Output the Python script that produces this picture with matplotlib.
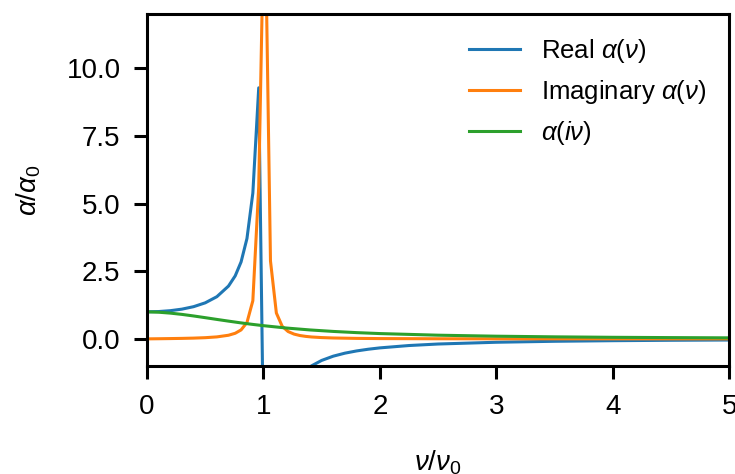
import matplotlib
matplotlib.use("Agg")
import matplotlib.pyplot as plt

plt.rcParams['font.family'] = ['Liberation Sans', 'DejaVu Sans']
plt.rcParams['mathtext.fontset'] = 'custom'
plt.rcParams['mathtext.rm'] = 'Liberation Sans'
plt.rcParams['mathtext.it'] = 'Liberation Sans:italic'

# real part of alpha(nu) (dense near the resonance)
nu_re = [0.0, 0.1, 0.2, 0.3, 0.4, 0.5, 0.6, 0.7, 0.7576, 0.8081, 0.8586,
         0.9091, 0.9596, 1.0101, 1.0606, 1.1111, 1.1616, 1.2121, 1.2626,
         1.3131, 1.3636, 1.4141, 1.5, 1.6, 1.7, 1.8, 1.9, 2.0, 2.25, 2.5,
         3.0, 3.5, 4.0, 4.5, 5.0]
alpha_re = [1.0, 1.010, 1.042, 1.099, 1.190, 1.332, 1.559, 1.952, 2.329,
            2.844, 3.71, 5.39, 9.28, -6.85, -6.8, -4.04, -2.79, -2.1, -1.66,
            -1.37, -1.16, -0.995, -0.797, -0.639, -0.528, -0.446, -0.383,
            -0.333, -0.246, -0.190, -0.125, -0.089, -0.067, -0.052, -0.042]

# imaginary part of alpha(nu)
nu_im = [0.0, 0.1, 0.2, 0.3, 0.4, 0.5, 0.6, 0.7, 0.7576, 0.8081, 0.8586,
         0.9091, 0.9596, 1.0101, 1.0606, 1.1111, 1.1616, 1.2121, 1.2626,
         1.3131, 1.3636, 1.4141, 1.5, 1.6, 1.8, 2.0, 2.5, 3.0, 4.0, 5.0]
alpha_im = [0.0, 0.005, 0.011, 0.018, 0.028, 0.044, 0.073, 0.134, 0.207,
            0.331, 0.605, 1.41, 5.62, 17.0, 2.88, 0.956, 0.463, 0.271, 0.177,
            0.124, 0.092, 0.070, 0.048, 0.033, 0.018, 0.011, 0.0045, 0.0023,
            0.0009, 0.0004]

# alpha at imaginary frequency
nu_iv = [0.0, 0.1, 0.2, 0.3, 0.4, 0.5, 0.6, 0.7, 0.8, 0.9, 1.0, 1.2, 1.4,
         1.6, 1.8, 2.0, 2.5, 3.0, 3.5, 4.0, 4.5, 5.0]
alpha_iv = [1.0, 0.985, 0.952, 0.905, 0.847, 0.784, 0.719, 0.656, 0.595,
            0.539, 0.488, 0.400, 0.330, 0.275, 0.231, 0.196, 0.136, 0.099,
            0.075, 0.058, 0.047, 0.038]

fig = plt.figure(figsize=(7.35, 4.74), dpi=100)
ax = fig.add_axes([0.2, 0.228, 0.792, 0.742])

lw = 2.2
ax.plot(nu_re, alpha_re, color='tab:blue', lw=lw, label=r'Real $\alpha(\nu)$')
ax.plot(nu_im, alpha_im, color='tab:orange', lw=lw, label=r'Imaginary $\alpha(\nu)$')
ax.plot(nu_iv, alpha_iv, color='tab:green', lw=lw, label=r'$\alpha(i\nu)$')

ax.set_xlim(0, 5)
ax.set_ylim(-1, 12)
ax.set_yticks([0, 2.5, 5, 7.5, 10])
ax.set_yticklabels(['0.0', '2.5', '5.0', '7.5', '10.0'])
ax.set_xticks([0, 1, 2, 3, 4, 5])

for s in ax.spines.values():
    s.set_linewidth(2.2)
ax.tick_params(axis='both', labelsize=20, length=9.5, width=2.2)
ax.tick_params(axis='x', pad=11)
ax.tick_params(axis='y', pad=9.5)

ax.set_xlabel(r'$\nu/\nu_0$', fontsize=20, labelpad=20)
ax.set_ylabel(r'$\alpha/\alpha_0$', fontsize=20, labelpad=17)

ax.legend(loc='upper right', frameon=False, fontsize=18.5)

fig.savefig('out.png', dpi=100)
